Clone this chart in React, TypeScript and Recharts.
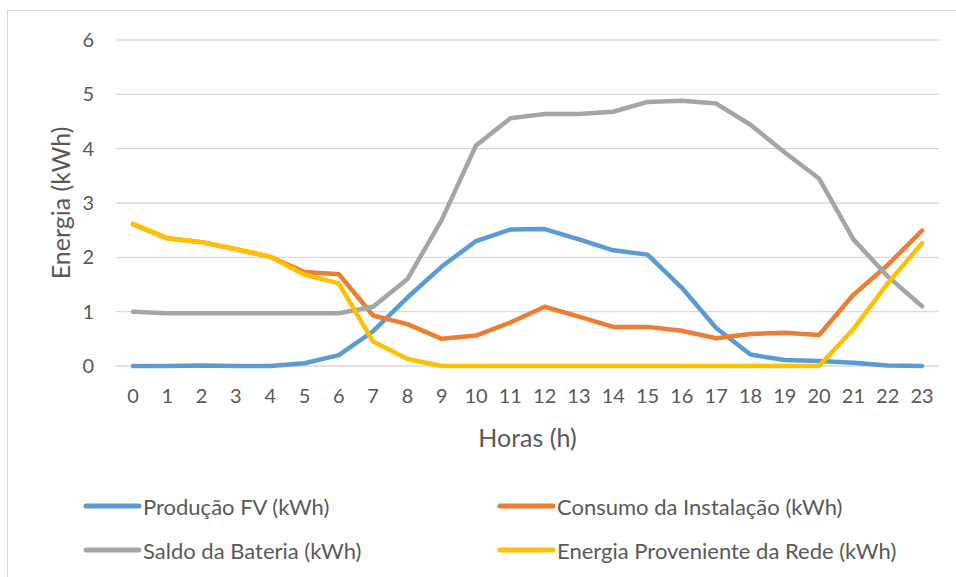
import React from 'react';
import { LineChart, Line, XAxis, YAxis, CartesianGrid, Legend } from 'recharts';

const HOURS = ['0', '1', '2', '3', '4', '5', '6', '7', '8', '9', '10', '11', '12', '13', '14', '15', '16', '17', '18', '19', '20', '21', '22', '23'];

const PRODUCAO_FV = [0, 0, 0.01, 0, 0, 0.05, 0.2, 0.64, 1.26, 1.83, 2.3, 2.51, 2.52, 2.33, 2.13, 2.05, 1.44, 0.7, 0.21, 0.11, 0.09, 0.06, 0.01, 0];
const CONSUMO = [2.61, 2.35, 2.28, 2.15, 2.01, 1.73, 1.69, 0.93, 0.77, 0.5, 0.56, 0.8, 1.09, 0.91, 0.72, 0.72, 0.65, 0.51, 0.59, 0.61, 0.57, 1.31, 1.86, 2.49];
const SALDO_BATERIA = [1.0, 0.97, 0.97, 0.97, 0.97, 0.97, 0.97, 1.09, 1.6, 2.69, 4.06, 4.56, 4.64, 4.64, 4.68, 4.86, 4.88, 4.83, 4.44, 3.93, 3.45, 2.33, 1.65, 1.1];
const REDE = [2.61, 2.35, 2.28, 2.15, 2.01, 1.68, 1.52, 0.45, 0.13, 0, 0, 0, 0, 0, 0, 0, 0, 0, 0, 0, 0, 0.68, 1.52, 2.26];

const Y_TICKS = [0, 1, 2, 3, 4, 5, 6];

const SERIES = [
  { key: 'fv', name: 'Produção FV (kWh)', color: '#5b9bd5' },
  { key: 'consumo', name: 'Consumo da Instalação (kWh)', color: '#ed7d31' },
  { key: 'bateria', name: 'Saldo da Bateria (kWh)', color: '#a5a5a5' },
  { key: 'rede', name: 'Energia Proveniente da Rede (kWh)', color: '#ffc000' },
];

const data = HOURS.map((h, i) => ({
  hora: h,
  fv: PRODUCAO_FV[i],
  consumo: CONSUMO[i],
  bateria: SALDO_BATERIA[i],
  rede: REDE[i],
}));

const FONT = 'Lato, "Noto Sans", sans-serif';
const TEXT = '#595959';

// legend keeps the series order (2 columns x 2 rows)
function LegendBox({ payload }: any) {
  const items = [...(payload || [])].sort(
    (a: any, b: any) => SERIES.findIndex((s) => s.name === a.value) - SERIES.findIndex((s) => s.name === b.value)
  );
  return (
    <div style={{ position: 'relative', width: 956, height: 121 }}>
      {items.map((p: any, i: number) => {
        const col = i % 2;
        const row = Math.floor(i / 2);
        const left = col === 0 ? 83 : 497;
        const top = row === 0 ? 50 : 94;
        return (
          <div key={p.value} style={{ position: 'absolute', left, top: top - 14, height: 28, display: 'flex', alignItems: 'center' }}>
            <svg width={60} height={28} style={{ display: 'block' }}>
              <line x1={3} y1={14} x2={56} y2={14} stroke={p.color} strokeWidth={5} strokeLinecap="round" />
            </svg>
            <span style={{ fontFamily: FONT, fontSize: 22, color: TEXT, whiteSpace: 'nowrap' }}>{p.value}</span>
          </div>
        );
      })}
    </div>
  );
}

export default function App() {
  return (
    <div style={{ position: 'absolute', left: 0, top: 0, width: 956, height: 577, overflow: 'hidden', background: '#fff' }}>
      <div style={{ position: 'absolute', left: 7, top: 10, width: 1000, height: 700, border: '1px solid #d9d9d9' }} />
      <LineChart width={956} height={577} data={data} margin={{ top: 40, right: 17, left: 0, bottom: 0 }} style={{ position: 'absolute', left: 0, top: 0 }}>
        <CartesianGrid vertical={false} stroke="#d9d9d9" strokeWidth={1.3} />
        <XAxis
          dataKey="hora"
          height={90}
          padding={{ left: 17, right: 17 }}
          axisLine={false}
          tickLine={false}
          tickSize={0}
          tickMargin={23}
          interval={0}
          tick={{ fill: TEXT, fontSize: 20, fontFamily: FONT }}
          label={{
            content: (props: any) => {
              const vb = props.viewBox;
              return (
                <text x={vb.x + vb.width / 2} y={437} textAnchor="middle" dominantBaseline="central" fill={TEXT} fontSize={25} fontFamily={FONT}>
                  Horas (h)
                </text>
              );
            },
          }}
        />
        <YAxis
          width={116}
          domain={[0, 6]}
          ticks={Y_TICKS}
          axisLine={false}
          tickLine={false}
          tickSize={0}
          tickMargin={22}
          tick={{ fill: TEXT, fontSize: 20, fontFamily: FONT }}
          label={{
            content: (props: any) => {
              const vb = props.viewBox;
              const cy = vb.y + vb.height / 2;
              return (
                <text x={60} y={cy} textAnchor="middle" dominantBaseline="central" fill={TEXT} fontSize={25} fontFamily={FONT} transform={`rotate(-90 60 ${cy})`}>
                  Energia (kWh)
                </text>
              );
            },
          }}
        />
        <Legend verticalAlign="bottom" content={<LegendBox />} wrapperStyle={{ left: 0, width: 956, height: 121 }} />
        {SERIES.map((s) => (
          <Line
            key={s.key}
            type="linear"
            dataKey={s.key}
            name={s.name}
            stroke={s.color}
            strokeWidth={4.5}
            strokeLinecap="round"
            strokeLinejoin="round"
            dot={false}
            activeDot={false}
            isAnimationActive={false}
          />
        ))}
      </LineChart>
    </div>
  );
}
